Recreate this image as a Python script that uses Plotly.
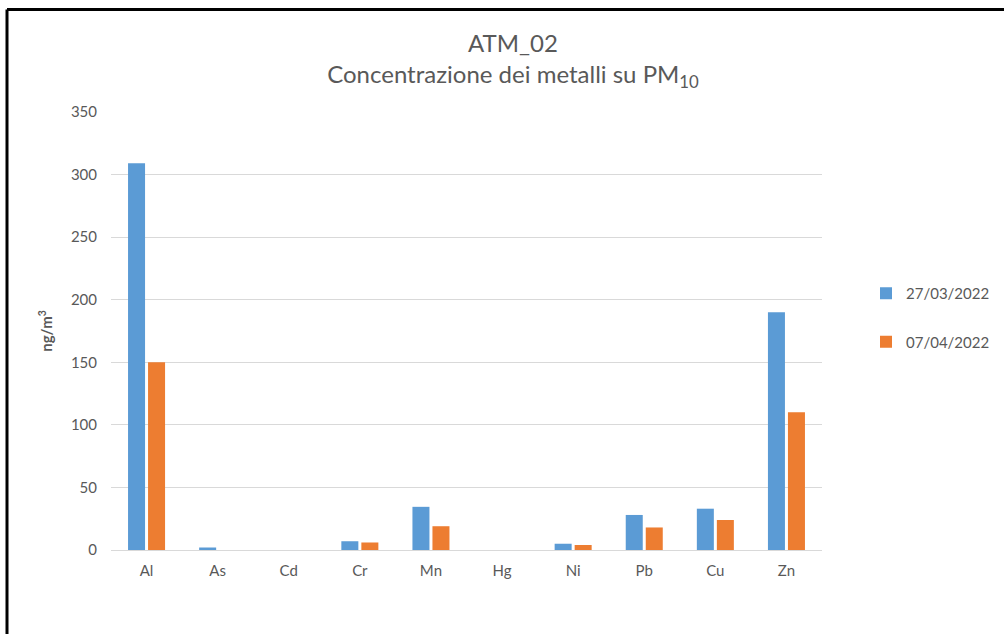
import plotly.graph_objects as go

categories = ["Al", "As", "Cd", "Cr", "Mn", "Hg", "Ni", "Pb", "Cu", "Zn"]
series_names = ["27/03/2022", "07/04/2022"]
values_1 = [309, 2, 0, 7, 34.5, 0, 5, 28, 33, 190]
values_2 = [150, 0, 0, 6, 19, 0, 4, 18, 24, 110]
y_ticks = [0, 50, 100, 150, 200, 250, 300, 350]
colors = ["#5B9BD5", "#ED7D31"]

FONT = "Lato, 'Open Sans', sans-serif"

fig = go.Figure()
for name, vals, col in zip(series_names, [values_1, values_2], colors):
    fig.add_trace(go.Bar(x=categories, y=vals, name=name, marker_color=col,
                         marker_line_width=0, legendgroup=name))

L, R, T, B = 111, 182, 112, 84
W, H = 1004, 634
pw, ph = W - L - R, H - T - B
bx = (7 - L) / pw
by = (H - B - 9.5) / ph

fig.update_layout(
    width=W, height=H,
    margin=dict(l=L, r=R, t=T, b=B, autoexpand=False),
    paper_bgcolor="white", plot_bgcolor="white",
    font=dict(family=FONT, color="#595959", size=15),
    title=dict(text="ATM_02<br>Concentrazione dei metalli su PM<sub>10</sub>",
               x=513 / W, xanchor="center", y=1 - 52 / H, yanchor="top",
               font=dict(size=24, color="#595959", family=FONT)),
    barmode="group", bargap=0.437, bargroupgap=0.15,
    showlegend=True,
    legend=dict(xref="container", yref="container", x=866 / W, y=1 - 277 / H,
                xanchor="left", yanchor="top",
                font=dict(size=15, color="#595959"), tracegroupgap=26,
                itemwidth=30, traceorder="grouped"),
    xaxis=dict(showgrid=False, showline=False, zeroline=False, ticks="",
               tickfont=dict(size=15, color="#595959"), ticklabelstandoff=10),
    yaxis=dict(range=[0, 350], tickvals=y_ticks, showgrid=True, gridcolor="#D9D9D9",
               gridwidth=1, zeroline=True, zerolinecolor="#D9D9D9", zerolinewidth=1,
               showline=False, ticks="", tickfont=dict(size=15, color="#595959"),
               ticklabelstandoff=13,
               title=dict(text="<b>ng/m<sup>3</sup></b>", standoff=14,
                          font=dict(size=15, color="#595959"))),
    shapes=[
        dict(type="line", xref="paper", yref="paper", x0=bx, x1=bx, y0=by, y1=-0.5,
             line=dict(color="black", width=3)),
        dict(type="line", xref="paper", yref="paper", x0=bx, x1=1.5, y0=by, y1=by,
             line=dict(color="black", width=3)),
    ],
)

fig.write_html("out.html", config={"displayModeBar": False},
               post_script="document.body.style.margin='0';")
